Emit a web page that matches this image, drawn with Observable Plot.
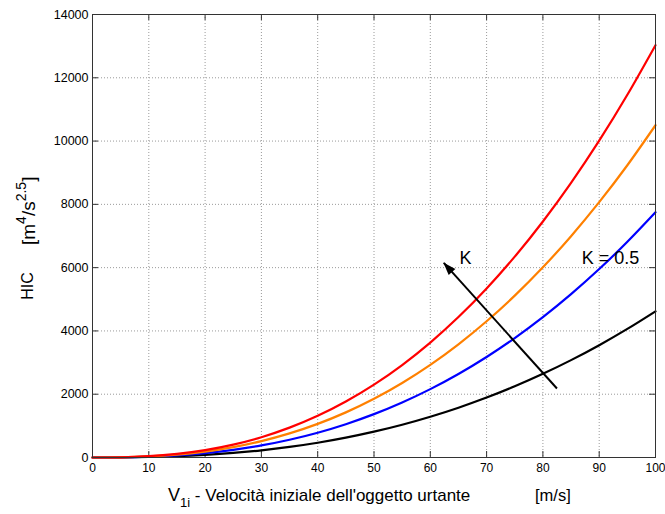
<!DOCTYPE html>
<html>
<head>
<meta charset="utf-8">
<script src="https://cdn.jsdelivr.net/npm/d3@7"></script>
<script src="https://cdn.jsdelivr.net/npm/@observablehq/plot@0.6"></script>
<style>
  body { margin: 0; background: #fff; }
  #chart svg { display: block; }
</style>
</head>
<body>
<div id="chart"></div>
<script>
// Initial impactor speed V1i [m/s]
const speed = [0, 5, 10, 15, 20, 25, 30, 35, 40, 45, 50, 55, 60, 65, 70, 75, 80, 85, 90, 95, 100];

// HIC [m^4/s^2.5] for the four stiffness values (K grows from black to red)
const hicBlack  = [0, 3, 15, 40, 83, 144, 228, 335, 467, 628, 817, 1036, 1288, 1574, 1894, 2251, 2645, 3077, 3550, 4064, 4620];
const hicBlue   = [0, 4, 25, 68, 139, 242, 382, 562, 784, 1053, 1370, 1739, 2161, 2640, 3177, 3775, 4436, 5162, 5955, 6817, 7750];
const hicOrange = [0, 6, 33, 91, 188, 328, 518, 761, 1062, 1426, 1856, 2356, 2928, 3577, 4305, 5115, 6011, 6994, 8069, 9236, 10500];
const hicRed    = [0, 7, 41, 114, 233, 407, 642, 944, 1318, 1770, 2303, 2923, 3633, 4438, 5342, 6347, 7459, 8680, 10013, 11462, 13030];

const seriesColors = ["#000000", "#0000ff", "#ff8000", "#ff0000"];
const seriesValues = [hicBlack, hicBlue, hicOrange, hicRed];

// Axis ticks
const xTicks = [0, 10, 20, 30, 40, 50, 60, 70, 80, 90, 100];
const yTicks = [0, 2000, 4000, 6000, 8000, 10000, 12000, 14000];

// Arrow showing the direction of increasing K, and the annotations
const kArrow = [{x1: 82.5, y1: 2180, x2: 62.4, y2: 6150}];
const notes = [
  {x: 65.2, y: 6290, text: "K"},
  {x: 86.9, y: 6290, text: "K = 0.5"}
];

const W = 665, H = 514;
const mL = 92, mR = 10, mT = 14, mB = 57;
const innerW = W - mL - mR, innerH = H - mT - mB;
const tickLen = 6;
const font = "'Liberation Sans', Arial, Helvetica, sans-serif";

const lineMarks = seriesValues.map((vals, i) =>
  Plot.line(speed.map((v, j) => ({v, hic: vals[j]})), {
    x: "v", y: "hic", stroke: seriesColors[i], strokeWidth: 2.2, curve: "natural"
  })
);

const chart = Plot.plot({
  width: W,
  height: H,
  marginLeft: mL,
  marginRight: mR,
  marginTop: mT,
  marginBottom: mB,
  style: {fontFamily: font, fontSize: "12px", color: "#000", background: "#fff", overflow: "visible"},
  x: {domain: [0, 100], ticks: xTicks, label: null},
  y: {domain: [0, 14000], ticks: yTicks, label: null},
  marks: [
    // dotted grid
    Plot.ruleX(xTicks.slice(1, -1), {x: d => d, stroke: "#9a9a9a", strokeWidth: 1, strokeDasharray: "1,2"}),
    Plot.ruleY(yTicks.slice(1, -1), {y: d => d, stroke: "#9a9a9a", strokeWidth: 1, strokeDasharray: "1,2"}),
    // inward ticks on all four sides
    Plot.tickX(xTicks, {x: d => d, insetTop: innerH - tickLen, stroke: "#333"}),
    Plot.tickX(xTicks, {x: d => d, insetBottom: innerH - tickLen, stroke: "#333"}),
    Plot.tickY(yTicks, {y: d => d, insetRight: innerW - tickLen, stroke: "#333"}),
    Plot.tickY(yTicks, {y: d => d, insetLeft: innerW - tickLen, stroke: "#333"}),
    Plot.axisX(xTicks, {tickSize: 0, tickPadding: 6, fontSize: 12, tickFormat: d => String(d), label: null}),
    Plot.axisY(yTicks, {tickSize: 0, tickPadding: 4, fontSize: 12.5, tickFormat: d => String(d), label: null}),
    ...lineMarks,
    Plot.link(kArrow, {x1: "x1", y1: "y1", x2: "x2", y2: "y2", stroke: "#000", strokeWidth: 2}),
    Plot.text(notes, {x: "x", y: "y", text: "text", textAnchor: "start", fontSize: 18, fill: "#000"}),
    Plot.frame({stroke: "#333", strokeWidth: 1})
  ]
});

document.getElementById("chart").appendChild(chart);

// Filled arrow head placed with the plot's own scales
const sx = chart.scale("x"), sy = chart.scale("y");
const svg = d3.select(chart);
{
  const a = kArrow[0];
  const px1 = sx.apply(a.x1), py1 = sy.apply(a.y1);
  const px2 = sx.apply(a.x2), py2 = sy.apply(a.y2);
  const dx = px2 - px1, dy = py2 - py1, len = Math.hypot(dx, dy);
  const ux = dx / len, uy = dy / len;
  const hl = 13, hw = 4.5;
  const bx = px2 - ux * hl, by = py2 - uy * hl;
  svg.append("path")
    .attr("d", `M${px2},${py2}L${bx - uy * hw},${by + ux * hw}L${bx + uy * hw},${by - ux * hw}Z`)
    .attr("fill", "#000");
}

// Axis titles with sub/superscripts
const xt = svg.append("text")
  .attr("x", 168).attr("y", 501).attr("text-anchor", "start")
  .attr("font-family", font).attr("font-size", 18).attr("fill", "#000");
xt.append("tspan").text("V");
xt.append("tspan").attr("dy", 6).attr("font-size", 13).text("1i");
xt.append("tspan").attr("dy", -6).attr("font-size", 17).text(" - Velocità iniziale dell'oggetto urtante");

svg.append("text")
  .attr("x", 535).attr("y", 501).attr("text-anchor", "start")
  .attr("font-family", font).attr("font-size", 16.5).attr("fill", "#000")
  .text("[m/s]");

svg.append("text")
  .attr("transform", "translate(33,286) rotate(-90)")
  .attr("text-anchor", "middle")
  .attr("font-family", font).attr("font-size", 16).attr("fill", "#000")
  .text("HIC");

const yu = svg.append("text")
  .attr("transform", "translate(35,245) rotate(-90)").attr("text-anchor", "start")
  .attr("font-family", font).attr("font-size", 19).attr("fill", "#000");
yu.append("tspan").text("[m");
yu.append("tspan").attr("dy", -9).attr("font-size", 14).text("4");
yu.append("tspan").attr("dy", 9).text("/s");
yu.append("tspan").attr("dy", -9).attr("font-size", 14).text("2.5");
yu.append("tspan").attr("dy", 9).text("]");
</script>
</body>
</html>
